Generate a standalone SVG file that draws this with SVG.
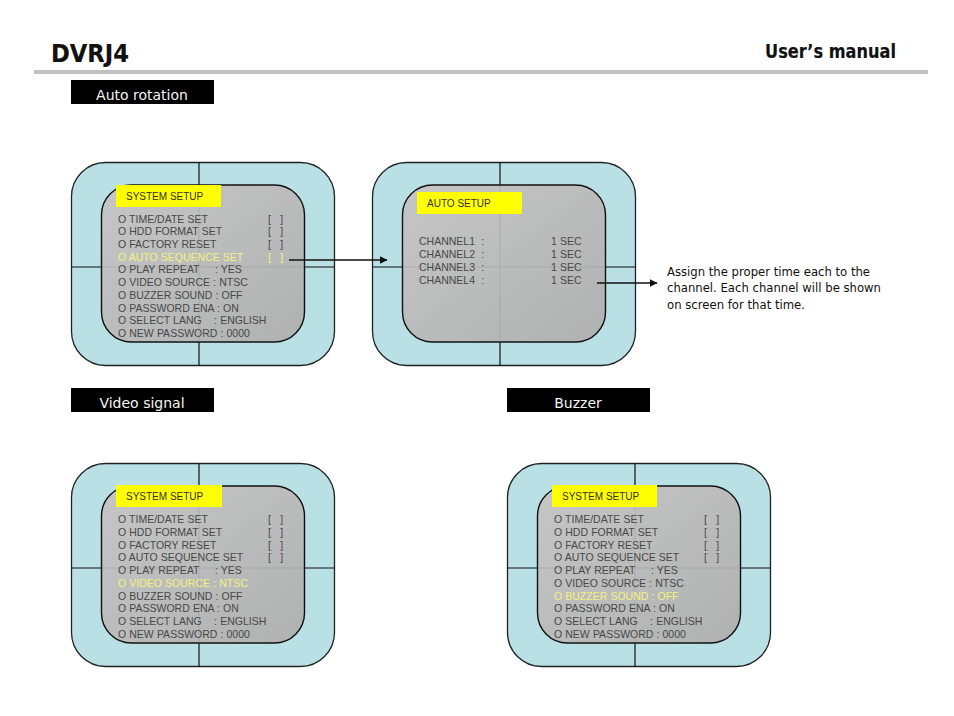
<svg xmlns="http://www.w3.org/2000/svg" width="954" height="716" viewBox="0 0 954 716">
<style>
.m{font:10.5px "Liberation Sans",Arial,sans-serif;fill:#484848;white-space:pre;word-spacing:.2px}
.y{fill:#f3f37c}
.t{font:10px "Liberation Sans",Arial,sans-serif;fill:#333}
.h{font:14px "DejaVu Sans",Verdana,sans-serif;fill:#f4f4f4;text-anchor:middle}
.n{font:12px "DejaVu Sans",Verdana,sans-serif;fill:#111}
.b{font-family:"DejaVu Sans",Verdana,sans-serif;font-weight:700;fill:#111;stroke:#111;stroke-width:.15}
.c{stroke:#111;stroke-width:1.3;fill:none;marker-end:url(#a)}
</style>
<defs>
<linearGradient id="g" x1="0" y1="0" x2="1" y2="1"><stop offset="0" stop-color="#c6c6c6"/><stop offset="1" stop-color="#b0b1b1"/></linearGradient>
<marker id="a" markerUnits="userSpaceOnUse" markerWidth="8" markerHeight="8" refX="7.5" refY="4" orient="auto"><path d="M0 0L8 4L0 8Z" fill="#111"/></marker>
<g id="f">
<rect x="0.5" y="0.5" width="263" height="203" rx="34" fill="#b9e0e4" stroke="#222" stroke-width="1.3"/>
<path d="M128 0V204M0 105H264" stroke="#111" stroke-width="1.2" fill="none"/>
<rect x="30.5" y="23" width="203" height="157" rx="30" fill="url(#g)" stroke="#111" stroke-width="1.4"/>
<path d="M128 23V180M31 105H233" stroke="#888" stroke-width="0.6" fill="none" opacity=".5"/>
</g>
</defs>
<rect width="954" height="716" fill="#fff"/>
<g id="header">
<text class="b" x="51" y="62" font-size="24" textLength="78" lengthAdjust="spacingAndGlyphs">DVRJ4</text>
<text class="b" x="765" y="58" font-size="19" textLength="131" lengthAdjust="spacingAndGlyphs">User’s manual</text>
<rect x="34" y="70" width="894" height="4" fill="#c0c0c0"/>
</g>
<g id="label-auto"><rect x="71" y="80" width="143" height="24"/><text class="h" x="142" y="100">Auto rotation</text></g>
<g id="label-video"><rect x="71" y="388" width="143" height="24"/><text class="h" x="142" y="408">Video signal</text></g>
<g id="label-buzzer"><rect x="507" y="388" width="143" height="24"/><text class="h" x="578" y="408">Buzzer</text></g>

<g id="screen-system-1">
<use href="#f" x="71" y="162"/>
<rect x="116" y="185" width="105" height="22" fill="#ff0"/>
<text class="t" x="126" y="200">SYSTEM SETUP</text>
<text class="m" x="118" y="223">O TIME/DATE SET</text><text class="m" x="268" y="223">[   ]</text>
<text class="m" x="118" y="235">O HDD FORMAT SET</text><text class="m" x="268" y="235">[   ]</text>
<text class="m" x="118" y="248">O FACTORY RESET</text><text class="m" x="268" y="248">[   ]</text>
<text class="m y" x="118" y="261">O AUTO SEQUENCE SET</text><text class="m y" x="268" y="261">[   ]</text>
<text class="m" x="118" y="273">O PLAY REPEAT     : YES</text>
<text class="m" x="118" y="286">O VIDEO SOURCE : NTSC</text>
<text class="m" x="118" y="299">O BUZZER SOUND : OFF</text>
<text class="m" x="118" y="312">O PASSWORD ENA : ON</text>
<text class="m" x="118" y="324">O SELECT LANG    : ENGLISH</text>
<text class="m" x="118" y="337">O NEW PASSWORD : 0000</text>
</g>

<g id="screen-auto">
<use href="#f" x="372" y="162"/>
<rect x="417" y="192" width="105" height="22" fill="#ff0"/>
<text class="t" x="427" y="207">AUTO SETUP</text>
<text class="m" x="419" y="245">CHANNEL1  :</text><text class="m" x="551" y="245">1 SEC</text>
<text class="m" x="419" y="258">CHANNEL2  :</text><text class="m" x="551" y="258">1 SEC</text>
<text class="m" x="419" y="271">CHANNEL3  :</text><text class="m" x="551" y="271">1 SEC</text>
<text class="m" x="419" y="284">CHANNEL4  :</text><text class="m" x="551" y="284">1 SEC</text>
</g>

<g id="screen-system-2">
<use href="#f" x="71" y="463"/>
<rect x="116" y="485" width="106" height="22" fill="#ff0"/>
<text class="t" x="126" y="500">SYSTEM SETUP</text>
<text class="m" x="118" y="523">O TIME/DATE SET</text><text class="m" x="268" y="523">[   ]</text>
<text class="m" x="118" y="536">O HDD FORMAT SET</text><text class="m" x="268" y="536">[   ]</text>
<text class="m" x="118" y="549">O FACTORY RESET</text><text class="m" x="268" y="549">[   ]</text>
<text class="m" x="118" y="561">O AUTO SEQUENCE SET</text><text class="m" x="268" y="561">[   ]</text>
<text class="m" x="118" y="574">O PLAY REPEAT     : YES</text>
<text class="m y" x="118" y="587">O VIDEO SOURCE : NTSC</text>
<text class="m" x="118" y="600">O BUZZER SOUND : OFF</text>
<text class="m" x="118" y="612">O PASSWORD ENA : ON</text>
<text class="m" x="118" y="625">O SELECT LANG    : ENGLISH</text>
<text class="m" x="118" y="638">O NEW PASSWORD : 0000</text>
</g>

<g id="screen-system-3">
<use href="#f" x="507" y="463"/>
<rect x="552" y="485" width="105" height="22" fill="#ff0"/>
<text class="t" x="562" y="500">SYSTEM SETUP</text>
<text class="m" x="554" y="523">O TIME/DATE SET</text><text class="m" x="704" y="523">[   ]</text>
<text class="m" x="554" y="536">O HDD FORMAT SET</text><text class="m" x="704" y="536">[   ]</text>
<text class="m" x="554" y="549">O FACTORY RESET</text><text class="m" x="704" y="549">[   ]</text>
<text class="m" x="554" y="561">O AUTO SEQUENCE SET</text><text class="m" x="704" y="561">[   ]</text>
<text class="m" x="554" y="574">O PLAY REPEAT     : YES</text>
<text class="m" x="554" y="587">O VIDEO SOURCE : NTSC</text>
<text class="m y" x="554" y="600">O BUZZER SOUND : OFF</text>
<text class="m" x="554" y="612">O PASSWORD ENA : ON</text>
<text class="m" x="554" y="625">O SELECT LANG    : ENGLISH</text>
<text class="m" x="554" y="638">O NEW PASSWORD : 0000</text>
</g>

<g id="note">
<text class="n" x="667" y="276" textLength="203" lengthAdjust="spacingAndGlyphs">Assign the proper time each to the</text>
<text class="n" x="667" y="292" textLength="214" lengthAdjust="spacingAndGlyphs">channel. Each channel will be shown</text>
<text class="n" x="667" y="309" textLength="138" lengthAdjust="spacingAndGlyphs">on screen for that time.</text>
</g>
<g id="connectors">
<path class="c" d="M289 260H387"/>
<path class="c" d="M597 283H657"/>
</g>
</svg>
